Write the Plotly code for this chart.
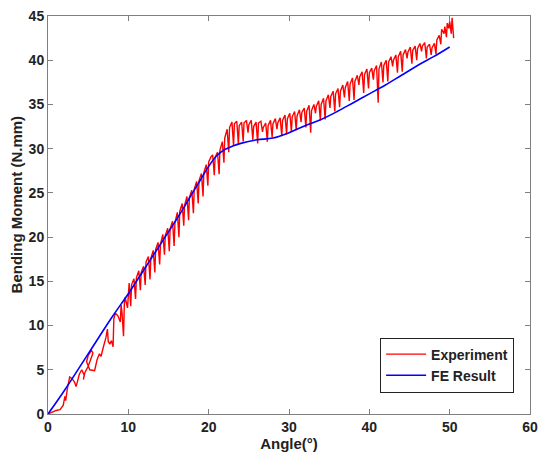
import plotly.graph_objects as go

# FE Result (blue)
fe_x = [0, 2, 5, 8, 10, 12, 14, 16, 18, 19, 20, 21, 22, 23, 24, 26, 28, 30, 32, 34, 36, 38, 40, 42, 44, 46, 48, 50]
fe_y = [0, 2.6, 6.8, 11.0, 13.6, 16.4, 19.2, 22.0, 25.0, 26.5, 28.0, 29.2, 29.9, 30.3, 30.6, 31.0, 31.2, 31.8, 32.6, 33.3, 34.2, 35.2, 36.2, 37.2, 38.3, 39.4, 40.4, 41.5]

# Experiment (red)
exp_x = [0, 0.5, 1.0, 1.5, 1.9, 2.1, 2.2, 2.4, 2.7, 3.0, 3.3, 3.5, 3.7, 3.9, 4.2, 4.5, 4.4, 4.6, 5.0, 5.4,
         5.6, 5.4, 5.0, 4.8, 5.2, 5.8, 6.1, 6.4, 6.6, 6.9, 7.2, 7.4, 7.5, 7.7, 7.9, 8.1, 8.2, 8.4, 8.7, 9.0,
         9.1, 9.2, 9.4, 9.5, 9.6, 9.9,
         10.1, 10.3, 10.4, 10.7, 10.9, 11.0, 11.3, 11.5, 11.6, 11.9, 12.1, 12.2, 12.5, 12.7, 12.8, 13.1, 13.3, 13.4,
         13.7, 13.9, 14.0, 14.3, 14.5, 14.6, 14.9, 15.1, 15.2, 15.5, 15.7, 15.8, 16.1, 16.3, 16.4, 16.7, 16.9, 17.0,
         17.3, 17.5, 17.6, 17.9, 18.1, 18.2, 18.5, 18.7, 18.8, 19.1, 19.3, 19.4, 19.7, 19.9, 20.0, 20.3, 20.5, 20.7,
         20.8, 21.1, 21.3, 21.4, 21.7, 21.9, 22.0, 22.3, 22.5, 22.6, 22.9, 23.1, 23.2, 23.5, 23.7, 23.8, 24.1, 24.3,
         24.4, 24.7, 24.9, 25.0, 25.3, 25.5, 25.6, 25.9, 26.1, 26.2, 26.5, 26.7, 26.8, 27.1, 27.3, 27.4, 27.7, 27.9,
         28.0, 28.3, 28.5, 28.6, 28.9, 29.1, 29.2, 29.5, 29.7, 29.8, 30.1, 30.3, 30.4, 30.7, 30.9, 31.0, 31.3, 31.5,
         31.6, 31.9, 32.1, 32.2, 32.5, 32.7, 32.8, 33.1, 33.3, 33.4, 33.7, 33.9, 34.0, 34.3, 34.5, 34.6, 34.9, 35.1,
         35.2, 35.5, 35.7, 35.8, 36.1, 36.3, 36.4, 36.7, 36.9, 37.0, 37.3, 37.5, 37.6, 37.9, 38.1, 38.2, 38.5, 38.7,
         38.8, 39.1, 39.3, 39.4, 39.7, 39.9, 40.0, 40.3, 40.5, 40.6, 40.9, 41.1, 41.2, 41.5, 41.7, 41.8, 42.1, 42.3,
         42.4, 42.7, 42.9, 43.0, 43.3, 43.5, 43.6, 43.9, 44.1, 44.2, 44.5, 44.7, 44.8, 45.1, 45.3, 45.4, 45.7, 45.9,
         46.0, 46.3, 46.5, 46.6, 46.9, 47.1, 47.2, 47.5, 47.7, 47.8, 48.1, 48.3, 48.4, 48.7, 48.9, 49.0, 49.3, 49.4,
         49.6, 49.7, 49.9, 50.0, 50.2, 50.3, 50.5]
exp_y = [0, 0.2, 0.4, 0.5, 1.0, 2.0, 1.5, 2.8, 4.2, 4.0, 3.6, 3.1, 3.8, 4.5, 5.0, 4.4, 3.9, 4.7, 5.4, 6.4,
         6.9, 7.2, 6.6, 5.9, 5.0, 4.9, 6.1, 6.8, 6.5, 7.6, 8.6, 9.6, 8.2, 7.9, 8.3, 7.6, 10.8, 11.4, 11.1, 10.4,
         12.3, 11.6, 8.8, 12.4, 13.2, 12.0,
         14.8, 12.2, 14.6, 15.3, 13.0, 15.4, 16.2, 14.0, 16.0, 16.7, 14.6, 17.2, 17.8, 15.2, 17.6, 18.5, 16.0, 18.6,
         19.4, 16.9, 19.2, 20.3, 18.0, 20.2, 21.0, 18.4, 20.9, 21.8, 19.0, 21.6, 22.8, 20.0, 22.9, 23.8, 21.3, 23.6,
         24.6, 21.9, 24.5, 25.3, 22.7, 25.4, 26.3, 23.8, 26.4, 27.2, 24.6, 27.3, 28.2, 25.8, 28.5, 29.1, 29.3, 27.0,
         29.0, 29.6, 27.1, 29.8, 30.8, 28.4, 31.2, 32.2, 29.6, 32.4, 33.0, 30.3, 32.8, 33.1, 30.5, 32.6, 33.0, 30.8,
         32.9, 33.2, 31.8, 32.7, 33.2, 31.0, 32.5, 33.0, 30.6, 32.9, 33.1, 31.9, 32.4, 32.9, 30.8, 32.6, 33.2, 31.3,
         32.8, 33.4, 32.2, 32.9, 33.5, 31.4, 33.2, 33.8, 31.6, 33.4, 34.0, 31.9, 33.6, 34.2, 32.1, 33.7, 34.4, 33.0,
         34.1, 34.6, 32.4, 34.2, 34.9, 31.8, 34.3, 35.0, 34.0, 34.8, 35.4, 33.2, 35.0, 35.7, 33.3, 35.4, 36.1, 34.6,
         35.9, 36.5, 34.2, 36.2, 36.8, 34.7, 36.5, 37.2, 35.8, 36.9, 37.6, 35.4, 37.3, 38.0, 35.5, 37.6, 38.3, 37.2,
         38.1, 38.7, 36.3, 38.4, 39.0, 36.8, 38.6, 39.1, 37.8, 38.8, 39.4, 35.2, 39.0, 39.8, 37.5, 39.4, 40.0, 37.6,
         39.8, 40.4, 39.3, 40.0, 40.6, 38.6, 40.4, 41.0, 38.7, 40.6, 41.2, 40.2, 40.9, 41.5, 39.6, 41.1, 41.6, 40.0,
         41.3, 41.9, 41.0, 41.6, 42.0, 40.2, 41.5, 41.8, 40.6, 41.4, 41.9, 40.7, 42.3, 42.8, 41.8, 43.5, 43.0, 43.8,
         42.6, 44.2, 43.6, 44.4, 43.0, 44.8, 42.5]

x_ticks = [0, 10, 20, 30, 40, 50, 60]
y_ticks = [0, 5, 10, 15, 20, 25, 30, 35, 40, 45]

fig = go.Figure()
fig.add_trace(go.Scatter(x=exp_x, y=exp_y, mode="lines", name="Experiment",
                         line=dict(color="#ff0000", width=1.4)))
fig.add_trace(go.Scatter(x=fe_x, y=fe_y, mode="lines", name="FE Result", line_shape="spline",
                         line=dict(color="#0000ff", width=1.6)))

axis_common = dict(showgrid=False, zeroline=False, showline=True, linecolor="#7f7f7f", linewidth=1,
                   mirror="ticks", ticks="inside", ticklen=5, tickcolor="#7f7f7f",
                   ticklabeloverflow="allow",
                   tickfont=dict(family="Arial", size=14, color="#222222", weight="bold"))

fig.update_xaxes(range=[0, 60], tickvals=x_ticks,
                 title=dict(text="Angle(°)", font=dict(family="Arial", size=15, color="#222222", weight="bold"),
                            standoff=3),
                 **axis_common)
fig.update_yaxes(range=[0, 45], tickvals=y_ticks, **axis_common)

fig.add_annotation(text="Bending Moment (N.mm)", xref="paper", yref="paper",
                   x=-0.066, y=0.527, xanchor="center", yanchor="middle", textangle=-90,
                   showarrow=False,
                   font=dict(family="Arial", size=15, color="#222222", weight="bold"))

fig.update_layout(
    width=546, height=456,
    margin=dict(l=48, r=9, t=8, b=41),
    paper_bgcolor="white", plot_bgcolor="white",
    showlegend=True,
    legend=dict(x=0.967, y=0.054, xanchor="right", yanchor="bottom",
                bgcolor="white", bordercolor="#222222", borderwidth=1,
                font=dict(family="Arial", size=14, color="#222222", weight="bold"),
                tracegroupgap=0, itemwidth=40),
)

fig.write_html("out.html")
